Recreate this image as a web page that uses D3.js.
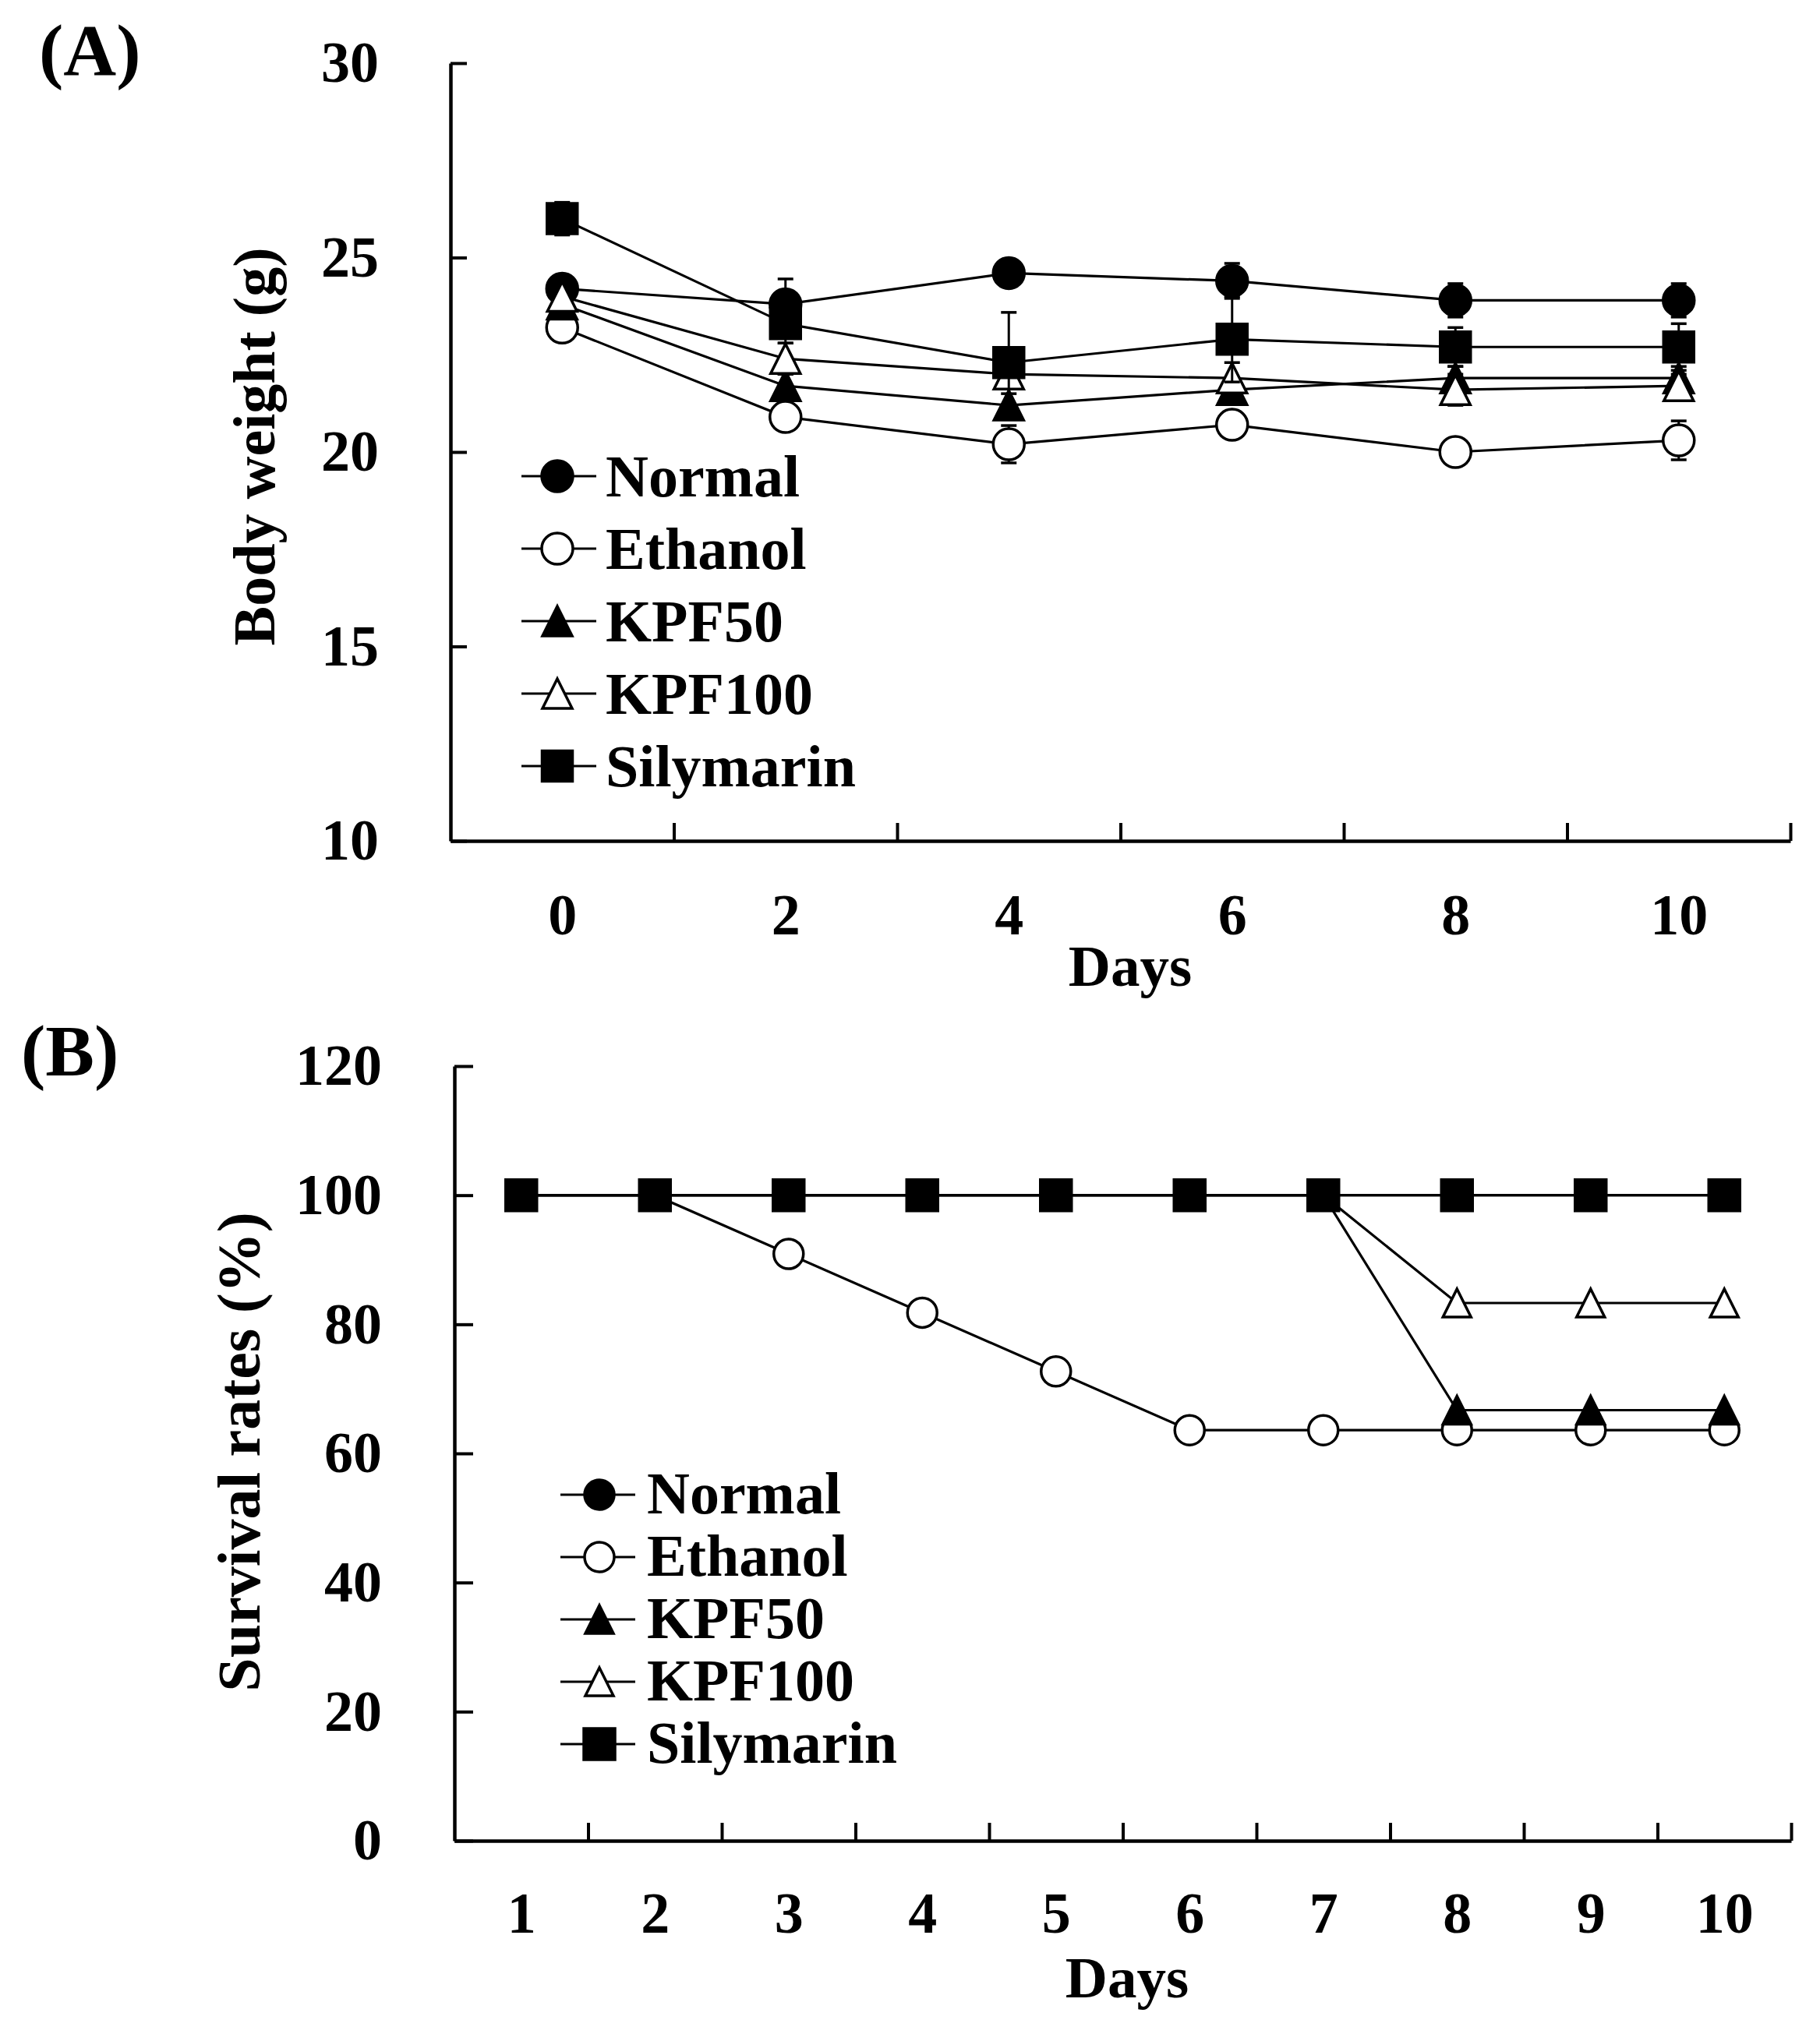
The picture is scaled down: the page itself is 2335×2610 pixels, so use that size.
<!DOCTYPE html>
<html><head><meta charset="utf-8">
<script src="https://cdn.jsdelivr.net/npm/d3@7"></script>
<style>
html,body{margin:0;padding:0;background:#fff;}
svg{display:block;background:#fff;}
text{font-family:"Liberation Serif","Times New Roman",serif;font-weight:bold;fill:#000;}
</style></head><body>
<svg id="chart" width="2335" height="2610"></svg>
<script>
// ---------- shared ----------
const seriesNames = ["Normal", "Ethanol", "KPF50", "KPF100", "Silymarin"];
const markerShapes = ["circle", "circle", "triangle", "triangle", "square"];
const markerFills = ["#000", "#fff", "#000", "#fff", "#000"];

// ---------- Panel A: body weight ----------
const daysA = [0, 2, 4, 6, 8, 10];
const normalA    = [24.2, 23.8, 24.6, 24.4, 23.9, 23.9];
const ethanolA   = [23.2, 20.9, 20.2, 20.7, 20.0, 20.3];
const kpf50A     = [23.8, 21.7, 21.2, 21.6, 21.9, 21.9];
const kpf100A    = [24.0, 22.4, 22.0, 21.9, 21.6, 21.7];
const silymarinA = [26.0, 23.3, 22.3, 22.9, 22.7, 22.7];
const normalErrA    = [0.3, 0.65, 0.3, 0.45, 0.43, 0.43];
const ethanolErrA   = [0.3, 0.3, 0.48, 0.3, 0.3, 0.5];
const kpf50ErrA     = [0.3, 0.3, 0.3, 0.3, 0.3, 0.3];
const kpf100ErrA    = [0.3, 0.4, 0.3, 0.4, 0.4, 0.3];
const silymarinErrA = [0.42, 0.5, 1.29, 1.1, 0.5, 0.6];
const yTicksA = [10, 15, 20, 25, 30];
const xLabelTicksA = [0, 2, 4, 6, 8, 10];
const xMarkTicksA = [1, 3, 5, 7, 9, 11];

// ---------- Panel B: survival ----------
const daysB = [1, 2, 3, 4, 5, 6, 7, 8, 9, 10];
const normalB    = [100, 100, 100, 100, 100, 100, 100, 100, 100, 100];
const ethanolB   = [100, 100, 90.9, 81.8, 72.7, 63.6, 63.6, 63.6, 63.6, 63.6];
const kpf50B     = [100, 100, 100, 100, 100, 100, 100, 66.7, 66.7, 66.7];
const kpf100B    = [100, 100, 100, 100, 100, 100, 100, 83.3, 83.3, 83.3];
const silymarinB = [100, 100, 100, 100, 100, 100, 100, 100, 100, 100];
const yTicksB = [0, 20, 40, 60, 80, 100, 120];
const xLabelTicksB = [1, 2, 3, 4, 5, 6, 7, 8, 9, 10];
const xMarkTicksB = [1.5, 2.5, 3.5, 4.5, 5.5, 6.5, 7.5, 8.5, 9.5, 10.5];

const svg = d3.select("#chart");

function shapePath(shape, s) {
  const h = s / 2;
  if (shape === "circle") return `M${-h},0A${h},${h} 0 1,0 ${h},0A${h},${h} 0 1,0 ${-h},0Z`;
  if (shape === "square") return `M${-h},${-h}H${h}V${h}H${-h}Z`;
  return `M0,${-h}L${h},${h}L${-h},${h}Z`;
}

function drawPanel(cfg) {
  const g = svg.append("g");
  const x = d3.scaleLinear().domain(cfg.xDomain).range(cfg.xRange);
  const y = d3.scaleLinear().domain(cfg.yDomain).range(cfg.yRange);

  // y axis
  const ya = g.append("g").attr("transform", `translate(${cfg.xRange[0]},0)`)
    .call(d3.axisLeft(y).tickValues(cfg.yTicks).tickSizeInner(-cfg.yTickLen).tickSizeOuter(0).tickPadding(cfg.yPad));
  ya.selectAll("text").style("font-size", cfg.tickFont + "px").style("font-family", '"Liberation Serif",serif').style("font-weight", "bold");
  // x axis ticks
  const xa = g.append("g").attr("transform", `translate(0,${cfg.yRange[0]})`)
    .call(d3.axisBottom(x).tickValues(cfg.xMarkTicks).tickSizeInner(-cfg.xTickLen).tickSizeOuter(0).tickFormat(""));
  // x axis labels
  const xl = g.append("g").attr("transform", `translate(0,${cfg.yRange[0]})`)
    .call(d3.axisBottom(x).tickValues(cfg.xLabelTicks).tickSize(0).tickPadding(cfg.xPad).tickFormat(d3.format("d")));
  xl.select(".domain").remove();
  xl.selectAll("text").style("font-size", cfg.tickFont + "px").style("font-family", '"Liberation Serif",serif').style("font-weight", "bold");
  [ya, xa].forEach(a => {
    a.select(".domain").attr("stroke", "#000").attr("stroke-width", 4.5);
    a.selectAll(".tick line").attr("stroke", "#000").attr("stroke-width", 4);
  });

  // series
  const line = d3.line().x(d => x(d[0])).y(d => y(d[1]));
  cfg.series.forEach((vals, i) => {
    const pts = cfg.days.map((d, k) => [d, vals[k]]);
    const sg = g.append("g");
    sg.append("path").attr("d", line(pts)).attr("fill", "none").attr("stroke", "#000").attr("stroke-width", 3.2);
    if (cfg.errors) {
      const errs = cfg.errors[i];
      pts.forEach((p, k) => {
        const e = errs[k];
        const x0 = x(p[0]), y1 = y(p[1] + e), y2 = y(p[1] - e);
        sg.append("line").attr("x1", x0).attr("x2", x0).attr("y1", y1).attr("y2", y2).attr("stroke", "#000").attr("stroke-width", 3);
        [y1, y2].forEach(yy => sg.append("line").attr("x1", x0 - 10).attr("x2", x0 + 10).attr("y1", yy).attr("y2", yy).attr("stroke", "#000").attr("stroke-width", 3.5));
      });
    }
    sg.selectAll("path.mk").data(pts).join("path").attr("class", "mk")
      .attr("d", shapePath(markerShapes[i], cfg.markSize[markerShapes[i]]))
      .attr("transform", d => `translate(${x(d[0])},${y(d[1])})`)
      .attr("fill", markerFills[i]).attr("stroke", "#000").attr("stroke-width", 3.5);
  });

  // legend
  seriesNames.forEach((name, i) => {
    const by = cfg.legend.y + i * cfg.legend.dy;
    const my = by - cfg.legend.off;
    g.append("line").attr("x1", cfg.legend.x1).attr("x2", cfg.legend.x2).attr("y1", my).attr("y2", my).attr("stroke", "#000").attr("stroke-width", 3.2);
    g.append("path").attr("d", shapePath(markerShapes[i], cfg.markSize[markerShapes[i]]))
      .attr("transform", `translate(${cfg.legend.mx},${my})`)
      .attr("fill", markerFills[i]).attr("stroke", "#000").attr("stroke-width", 3.5);
    g.append("text").attr("x", cfg.legend.tx).attr("y", by).style("font-size", cfg.legend.font + "px").text(name);
  });

  // titles
  g.append("text").attr("transform", `translate(${cfg.yTitle.x},${cfg.yTitle.y}) rotate(-90)`)
    .attr("text-anchor", "middle").style("font-size", cfg.yTitle.font + "px").text(cfg.yTitle.text);
  g.append("text").attr("x", cfg.xTitle.x).attr("y", cfg.xTitle.y)
    .attr("text-anchor", "middle").style("font-size", cfg.xTitle.font + "px").text("Days");
  g.append("text").attr("x", cfg.panel.x).attr("y", cfg.panel.y).style("font-size", cfg.panel.font + "px").text(cfg.panel.text);
}

drawPanel({
  xDomain: [-1, 11], xRange: [578, 2297],
  yDomain: [10, 30], yRange: [1079, 81],
  yTicks: yTicksA, yTickLen: 21, yPad: 92,
  xMarkTicks: xMarkTicksA, xLabelTicks: xLabelTicksA, xTickLen: 23, xPad: 67,
  tickFont: 74,
  days: daysA,
  series: [normalA, ethanolA, kpf50A, kpf100A, silymarinA],
  errors: [normalErrA, ethanolErrA, kpf50ErrA, kpf100ErrA, silymarinErrA],
  markSize: { circle: 40, square: 39, triangle: 38 },
  legend: { x1: 669, x2: 765, mx: 715, tx: 777, y: 637, dy: 93, off: 26, font: 76 },
  yTitle: { x: 352, y: 573, font: 76, text: "Body weight (g)" },
  xTitle: { x: 1450, y: 1265, font: 75 },
  panel: { x: 50, y: 96, font: 94, text: "(A)" }
});

drawPanel({
  xDomain: [0.5, 10.5], xRange: [583, 2298],
  yDomain: [0, 120], yRange: [2362, 1368],
  yTicks: yTicksB, yTickLen: 24, yPad: 93,
  xMarkTicks: xMarkTicksB, xLabelTicks: xLabelTicksB, xTickLen: 23, xPad: 65,
  tickFont: 74,
  days: daysB,
  series: [normalB, ethanolB, kpf50B, kpf100B, silymarinB],
  errors: null,
  markSize: { circle: 38, square: 40, triangle: 36 },
  legend: { x1: 719, x2: 815, mx: 769, tx: 830, y: 1942, dy: 80, off: 24, font: 76 },
  yTitle: { x: 333, y: 1863, font: 78, text: "Survival rates (%)" },
  xTitle: { x: 1446, y: 2563, font: 75 },
  panel: { x: 27, y: 1380, font: 94, text: "(B)" }
});
</script>
</body></html>
